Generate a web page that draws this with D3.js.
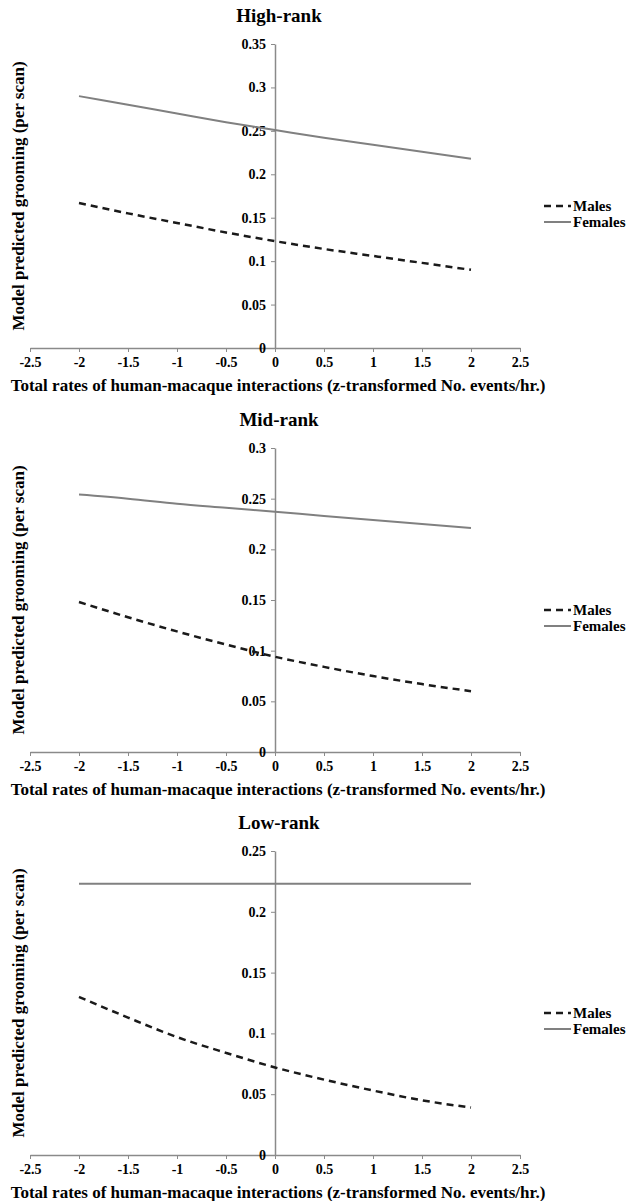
<!DOCTYPE html>
<html>
<head>
<meta charset="utf-8">
<script src="https://cdn.jsdelivr.net/npm/d3@7"></script>
<style>
  html, body { margin: 0; padding: 0; background: #fff; }
</style>
</head>
<body>
<svg id="chart" width="632" height="1201"></svg>
<script>
// ---- data ----
const panelTitles = ["High-rank", "Mid-rank", "Low-rank"];
const seriesNames = ["Males", "Females"];
const xValues = [-2, -1.5, -1, -0.5, 0, 0.5, 1, 1.5, 2];
const xTicks = [-2.5, -2, -1.5, -1, -0.5, 0, 0.5, 1, 1.5, 2, 2.5];

const highMales   = [0.167, 0.155, 0.144, 0.133, 0.123, 0.114, 0.106, 0.098, 0.090];
const highFemales = [0.290, 0.280, 0.270, 0.260, 0.251, 0.242, 0.234, 0.226, 0.218];
const midMales    = [0.148, 0.133, 0.119, 0.106, 0.094, 0.084, 0.075, 0.067, 0.060];
const midFemales  = [0.254, 0.250, 0.245, 0.241, 0.237, 0.233, 0.229, 0.225, 0.221];
const lowMales    = [0.130, 0.113, 0.097, 0.084, 0.072, 0.062, 0.053, 0.045, 0.039];
const lowFemales  = [0.223, 0.223, 0.223, 0.223, 0.223, 0.223, 0.223, 0.223, 0.223];

const yTicksHigh = [0, 0.05, 0.1, 0.15, 0.2, 0.25, 0.3, 0.35];
const yTicksMid  = [0, 0.05, 0.1, 0.15, 0.2, 0.25, 0.3];
const yTicksLow  = [0, 0.05, 0.1, 0.15, 0.2, 0.25];

const xTitle = "Total rates of human-macaque interactions (z-transformed No. events/hr.)";
const yTitle = "Model predicted grooming (per scan)";

// ---- layout ----
const FONT = "'Liberation Serif', 'Times New Roman', 'DejaVu Serif', serif";
const svg = d3.select("#chart");
const panels = [
  { title: panelTitles[0], males: highMales, females: highFemales, yTicks: yTicksHigh, yMax: 0.35, zeroY: 348 },
  { title: panelTitles[1], males: midMales,  females: midFemales,  yTicks: yTicksMid,  yMax: 0.30, zeroY: 752 },
  { title: panelTitles[2], males: lowMales,  females: lowFemales,  yTicks: yTicksLow,  yMax: 0.25, zeroY: 1155 }
];
const plotH = 304;
const x = d3.scaleLinear().domain([-2.5, 2.5]).range([30, 520]);
const axisColor = "#8a8a8a";
const femaleColor = "#808080";
const maleColor = "#1a1a1a";

function txt(sel, size) {
  return sel.style("font-family", FONT).style("font-weight", "bold")
            .style("font-size", size + "px").style("fill", "#000");
}

panels.forEach(p => {
  const y = d3.scaleLinear().domain([0, p.yMax]).range([p.zeroY, p.zeroY - plotH]);
  const g = svg.append("g");

  // title
  txt(g.append("text")
    .attr("x", 279).attr("y", p.zeroY - 326)
    .attr("text-anchor", "middle"), 19)
    .text(p.title);

  // x axis
  const xAxis = g.append("g")
    .attr("transform", `translate(0,${p.zeroY})`)
    .call(d3.axisBottom(x).tickValues(xTicks).tickFormat(d => String(d)).tickSize(4).tickSizeOuter(0).tickPadding(5));
  xAxis.attr("font-family", null);
  xAxis.select(".domain").attr("stroke", axisColor).attr("stroke-width", 1.5);
  xAxis.selectAll(".tick line").attr("stroke", axisColor);
  txt(xAxis.selectAll(".tick text"), 14);

  // y axis
  const yAxis = g.append("g")
    .attr("transform", `translate(${x(0)},0)`)
    .call(d3.axisLeft(y).tickValues(p.yTicks).tickFormat(d => String(d)).tickSize(4).tickSizeOuter(0).tickPadding(5));
  yAxis.attr("font-family", null);
  yAxis.select(".domain").attr("stroke", axisColor).attr("stroke-width", 1.5);
  yAxis.selectAll(".tick line").attr("stroke", axisColor);
  txt(yAxis.selectAll(".tick text"), 14);

  const line = d3.line().x((d, i) => x(xValues[i])).y(d => y(d)).curve(d3.curveMonotoneX);

  g.append("path").datum(p.females)
    .attr("d", line).attr("fill", "none")
    .attr("stroke", femaleColor).attr("stroke-width", 2);
  g.append("path").datum(p.males)
    .attr("d", line).attr("fill", "none")
    .attr("stroke", maleColor).attr("stroke-width", 2.5)
    .attr("stroke-dasharray", "7,5");

  // axis titles
  txt(g.append("text")
    .attr("x", 278).attr("y", p.zeroY + 43)
    .attr("text-anchor", "middle"), 17)
    .text(xTitle);
  txt(g.append("text")
    .attr("transform", `translate(24,${p.zeroY - 152}) rotate(-90)`)
    .attr("text-anchor", "middle"), 17)
    .text(yTitle);

  // legend
  const leg = g.append("g");
  const rows = [
    { name: seriesNames[0], color: maleColor, dash: "7,5", w: 2.5, dy: -142 },
    { name: seriesNames[1], color: femaleColor, dash: null, w: 2, dy: -126 }
  ];
  rows.forEach(r => {
    leg.append("line")
      .attr("x1", 544).attr("x2", 571)
      .attr("y1", p.zeroY + r.dy).attr("y2", p.zeroY + r.dy)
      .attr("stroke", r.color).attr("stroke-width", r.w)
      .attr("stroke-dasharray", r.dash);
    txt(leg.append("text")
      .attr("x", 573).attr("y", p.zeroY + r.dy + 5), 15)
      .text(r.name);
  });
});
</script>
</body>
</html>
